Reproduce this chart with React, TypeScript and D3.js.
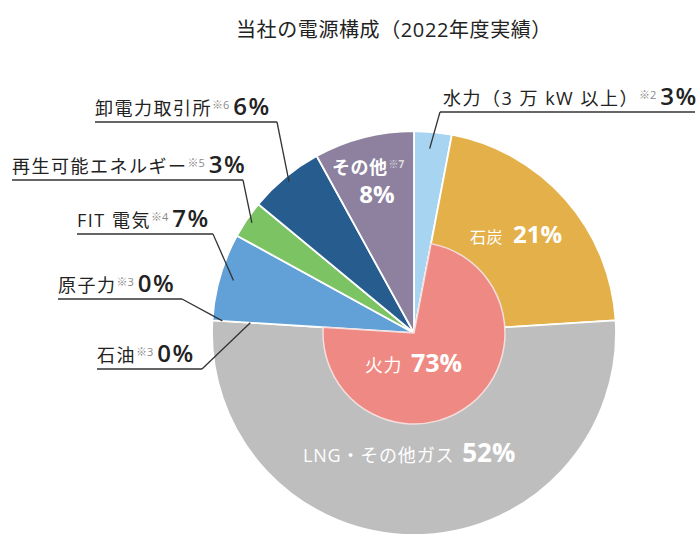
import React from "react";
import * as d3 from "d3";

const title = "当社の電源構成（2022年度実績）";
const sources = ["水力", "石炭", "LNG・その他ガス", "石油", "原子力", "FIT 電気", "再生可能エネルギー", "卸電力取引所", "その他"];
const shares = [3, 21, 52, 0, 0, 7, 3, 6, 8];
const colors = ["#a7d4f0", "#e4b04a", "#bebebe", "#bebebe", "#62a1d8", "#62a1d8", "#7cc364", "#275c8e", "#8d819f"];
const thermalLabel = "火力";
const thermalShare = 73;
const thermalMembers = ["石炭", "LNG・その他ガス", "石油"];

// outside leader labels: index into sources, label text, note, layout
const outsideLabels = [
  { i: 0, text: "水力（3 万 kW 以上）", note: "※2", x: 443, y: 105, lineEnd: 695, r: 185, frac: 0.45 },
  { i: 7, text: "卸電力取引所", note: "※6", x: 95, y: 115, lineEnd: 277, r: 196, frac: 0.5 },
  { i: 6, text: "再生可能エネルギー", note: "※5", x: 12, y: 173, lineEnd: 243, r: 196, frac: 0.5 },
  { i: 5, text: "FIT 電気", note: "※4", x: 77, y: 227, lineEnd: 213, r: 188, frac: 0.5 },
  { i: 4, text: "原子力", note: "※3", x: 58, y: 292, lineEnd: 182, r: 192, frac: 0 },
  { i: 3, text: "石油", note: "※3", x: 97, y: 362, lineEnd: 202, r: 164, frac: 1 },
];

const cx = 414;
const cy = 333;
const R = 202;
const rInner = 91;
const jp = "'Open Sans', 'Noto Sans CJK JP', sans-serif";

export default function App() {
  const pie = d3.pie<number>().sort(null).value((d) => d).startAngle(0).endAngle(2 * Math.PI);
  const arcs = pie(shares);
  const arcGen = d3.arc<any>().innerRadius(0).outerRadius(R);
  const thermalIdx = thermalMembers.map((m) => sources.indexOf(m));
  const tStart = d3.min(thermalIdx.map((i) => arcs[i].startAngle)) as number;
  const tEnd = d3.max(thermalIdx.map((i) => arcs[i].endAngle)) as number;
  const innerArc = d3.arc<any>().innerRadius(0).outerRadius(rInner)({ startAngle: tStart, endAngle: tEnd });

  const pt = (angle: number, r: number) => [cx + r * Math.sin(angle), cy - r * Math.cos(angle)];

  return (
    <svg width={700} height={550} style={{ position: "absolute", left: 0, top: 0 }}>
      <rect width={700} height={550} fill="#fff" />
      <text x={394} y={37} textAnchor="middle" fontSize={20} letterSpacing={0.6} fontFamily={jp} fill="#222">{title}</text>
      <g transform={`translate(${cx},${cy})`}>
        {arcs.map((a, i) =>
          a.endAngle - a.startAngle > 0 ? (
            <path key={i} d={arcGen(a) as string} fill={colors[i]} stroke="#fff" strokeWidth={1.8} strokeLinejoin="round" />
          ) : null
        )}
        <path d={innerArc as string} fill="#ef8983" stroke="#f4dede" strokeWidth={1.5} />
      </g>
      {outsideLabels.map((l, k) => {
        const a = arcs[l.i];
        const ang = a.startAngle + (a.endAngle - a.startAngle) * l.frac;
        const [px, py] = pt(ang, l.r);
        const startX = l.i === 0 ? l.x - 3 : l.lineEnd;
        const uy = l.y + 7;
        return (
          <g key={k}>
            <text x={l.x} y={l.y} fontFamily={jp} fill="#222">
              <tspan fontSize={18} letterSpacing={1.5}>{l.text}</tspan>
              <tspan fontSize={11} fill="#888" dy={-6}>{l.note}</tspan>
              <tspan fontSize={24} fontWeight={600} letterSpacing={1.5} dy={6} dx={4}>{shares[l.i]}%</tspan>
            </text>
            <line x1={l.i === 0 ? l.x - 3 : l.x} x2={l.lineEnd} y1={uy} y2={uy} stroke="#333" strokeWidth={1.3} />
            <line x1={startX} y1={uy} x2={px} y2={py} stroke="#333" strokeWidth={1.3} />
          </g>
        );
      })}
      <text x={332} y={174} fontFamily={jp} fill="#fff" fontWeight={700}>
        <tspan fontSize={18} letterSpacing={0.5}>その他</tspan>
        <tspan fontSize={10} dy={-6} dx={1} fill="#ddd">※7</tspan>
      </text>
      <text x={377} y={203} textAnchor="middle" fontFamily={jp} fill="#fff" fontWeight={700} fontSize={24}>{shares[8]}%</text>
      <text x={470} y={243} fontFamily={jp} fill="#fff">
        <tspan fontSize={16} letterSpacing={0.5}>石炭</tspan>
        <tspan fontSize={24} fontWeight={700} dx={10}>{shares[1]}%</tspan>
      </text>
      <text x={365} y={372} fontFamily={jp} fill="#fff">
        <tspan fontSize={18} letterSpacing={0.5}>{thermalLabel}</tspan>
        <tspan fontSize={25} fontWeight={700} dx={9}>{thermalShare}%</tspan>
      </text>
      <text x={303} y={462} fontFamily={jp} fill="#fff">
        <tspan fontSize={18} letterSpacing={0.8}>{sources[2]}</tspan>
        <tspan fontSize={26} fontWeight={700} dx={8}>{shares[2]}%</tspan>
      </text>
    </svg>
  );
}
